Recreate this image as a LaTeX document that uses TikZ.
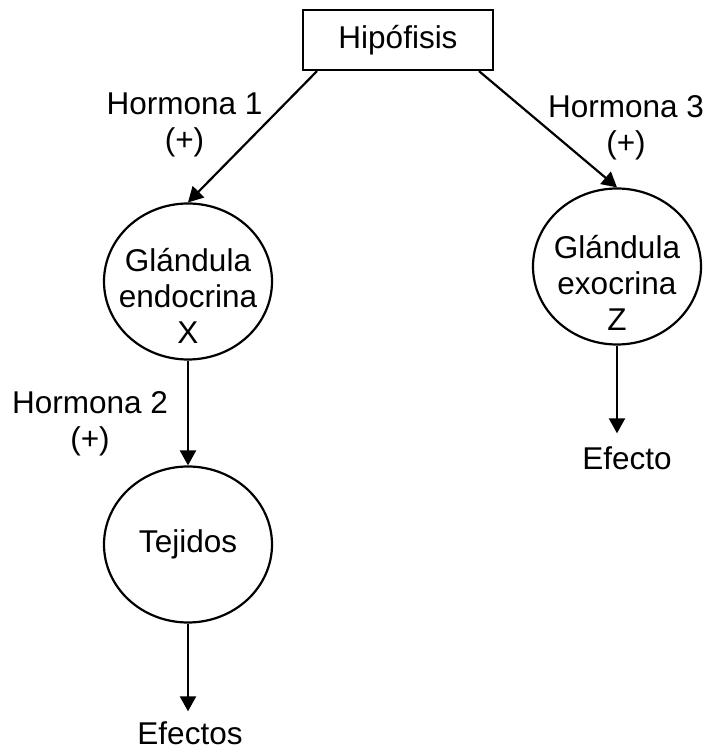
\documentclass[tikz,border=0pt]{standalone}
\usepackage{fontspec}
\setmainfont{Liberation Sans}
\usetikzlibrary{arrows.meta,positioning,shapes.geometric}

\begin{document}
\begin{tikzpicture}[
  x=1pt, y=1pt,
  >={Triangle[length=15pt,width=16pt]},
  line width=2.2pt,
  every node/.style={font=\fontsize{31.5}{36}\selectfont, align=center},
  organ/.style={ellipse,draw,minimum width=168pt,minimum height=156pt,inner sep=0pt},
  effect/.style={inner sep=0pt}
]
\useasboundingbox (0,0) rectangle (712,753);

\node[rectangle,draw,minimum width=190pt,minimum height=60pt] (hipo) at (398,713) {Hipófisis};
\node[organ] (glandX) at (188,471.5) {};
\node[organ] (glandZ) at (617,486.5) {};
\node[organ] (tejidos) at (188,208.5) {Tejidos};

% texts inside the glands
\node (glandXtxt) at (188,457.5) {Glándula\\endocrina\\X};
\node (glandZtxt) at (617,470.5) {Glándula\\exocrina\\Z};

\node[effect] (efecto) at (627,295) {Efecto};
\node[effect] (efectos) at (190,20) {Efectos};

% hormones
\node (h1) at (184.5,628) {Hormona 1\\(+)};
\node (h3) at (626,625.5) {Hormona 3\\(+)};
\node (h2) at (90,329) {Hormona 2\\(+)};

% arrows
\draw[->] ([xshift=-81pt]hipo.south) -- (glandX.north);
\draw[->] ([xshift=81pt]hipo.south) -- (glandZ.north);
\draw[->] (glandX) -- (tejidos);
\draw[->, shorten >=12pt] (glandZ) -- (glandZ.south |- efecto.north);
\draw[->, shorten >=9pt] (tejidos) -- (tejidos.south |- efectos.north);
\end{tikzpicture}
\end{document}
